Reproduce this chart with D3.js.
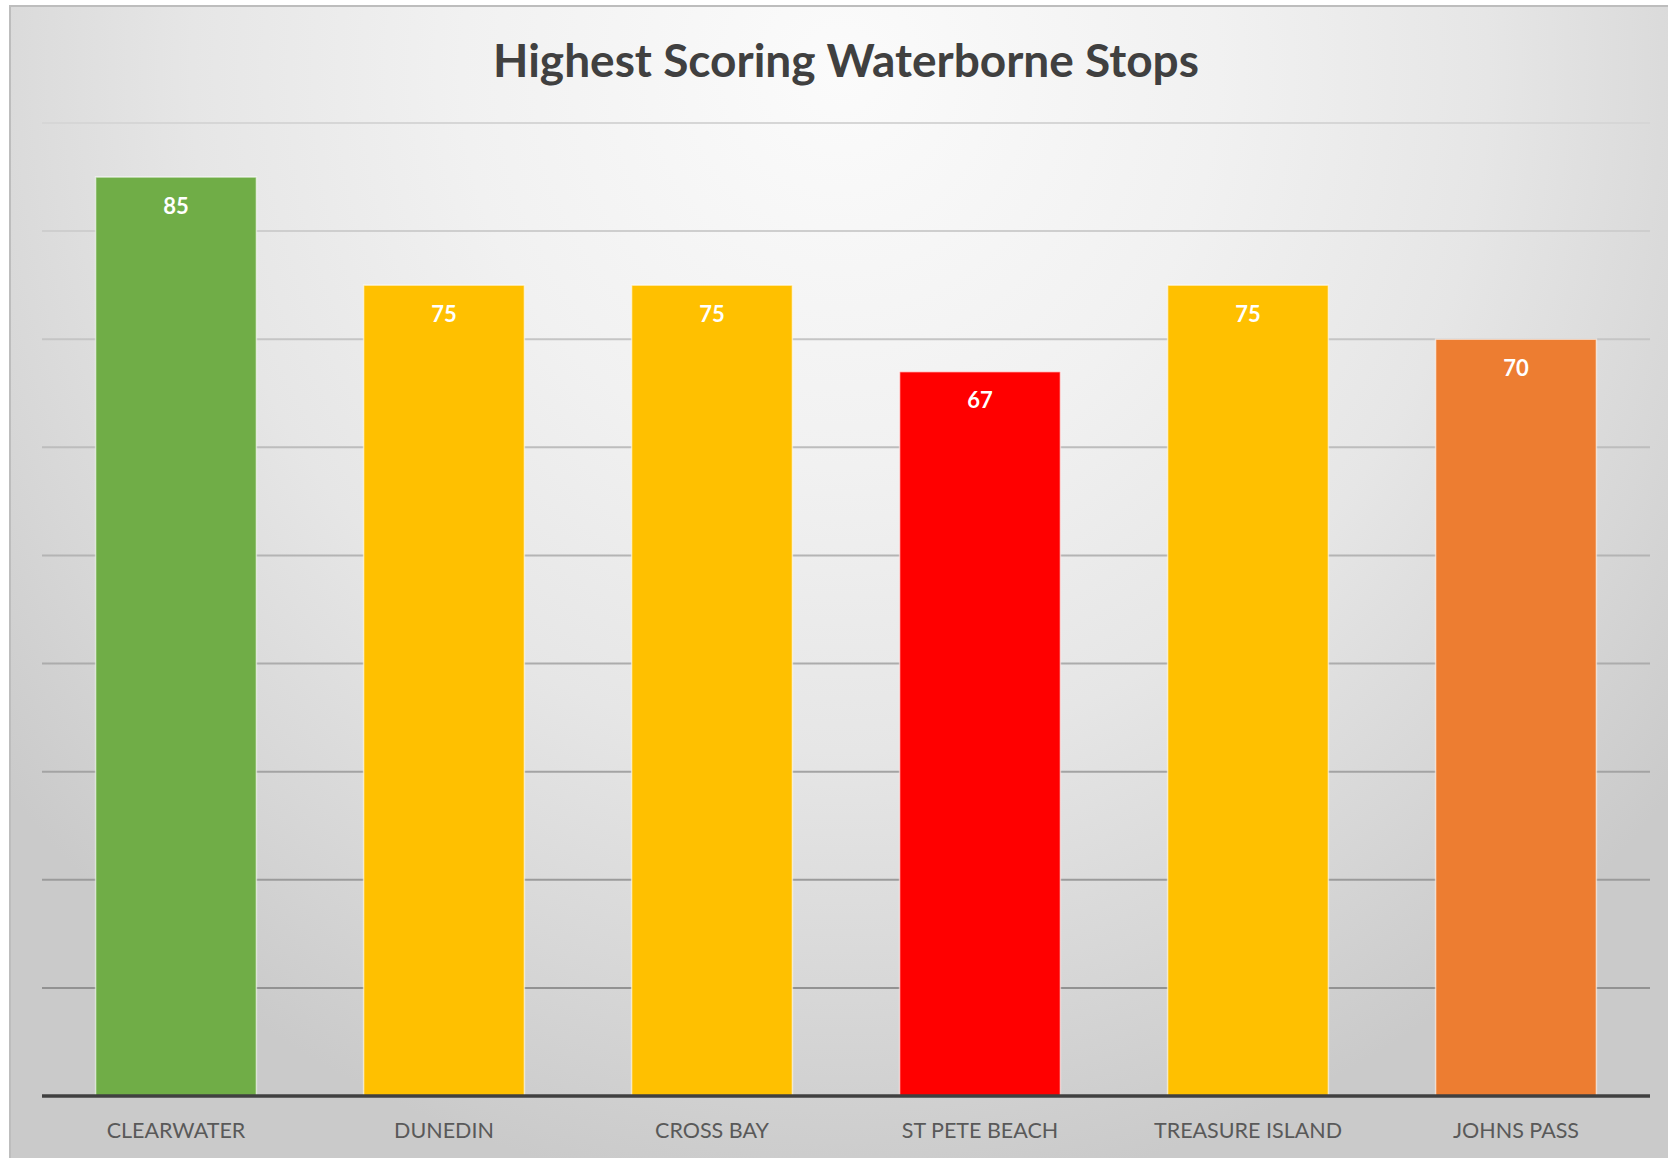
<!DOCTYPE html>
<html>
<head>
<meta charset="utf-8">
<script src="https://cdn.jsdelivr.net/npm/d3@7"></script>
<style>
  html, body { margin: 0; padding: 0; background: #fff; }
  svg { display: block; }
</style>
</head>
<body>
<div id="chart"></div>
<script>
// chart data
const categories = ['CLEARWATER', 'DUNEDIN', 'CROSS BAY', 'ST PETE BEACH', 'TREASURE ISLAND', 'JOHNS PASS'];
const scores = [85, 75, 75, 67, 75, 70];
const barColors = ['#70AD47', '#FFC000', '#FFC000', '#FF0000', '#FFC000', '#ED7D31'];
const title = 'Highest Scoring Waterborne Stops';
const yMax = 90;

const width = 1668;
const height = 1158;
const margin = { top: 123, right: 18, bottom: 62, left: 42 };

const svg = d3.select('#chart')
  .append('svg')
  .attr('width', width)
  .attr('height', height);

// radial background, light near the title, gray toward the edges
const defs = svg.append('defs');
const bg = defs.append('radialGradient')
  .attr('id', 'bg')
  .attr('gradientUnits', 'userSpaceOnUse')
  .attr('cx', 840).attr('cy', 70)
  .attr('r', 1080)
  .attr('gradientTransform', 'translate(840,70) scale(1,1.05) translate(-840,-70)');
[[0, '#fbfbfb'], [0.35, '#f1f1f1'], [0.6, '#e6e6e6'], [0.82, '#d7d7d7'], [1, '#cacaca']]
  .forEach(([o, c]) => bg.append('stop').attr('offset', o).attr('stop-color', c));

svg.append('rect')
  .attr('x', 10).attr('y', 6)
  .attr('width', width - 8).attr('height', height)
  .attr('fill', 'url(#bg)')
  .attr('stroke', '#bdbdbd')
  .attr('stroke-width', 2);

const x = d3.scaleBand()
  .domain(categories)
  .range([margin.left, width - margin.right])
  .paddingInner(0.4)
  .paddingOuter(0.2);

const y = d3.scaleLinear()
  .domain([0, yMax])
  .range([height - margin.bottom, margin.top]);

// gridlines get darker toward the bottom, like the source
const gridColor = d3.scaleLinear()
  .domain([0, yMax])
  .range(['#8a8a8a', '#d6d6d6']);

svg.append('g')
  .attr('class', 'grid')
  .selectAll('line')
  .data(y.ticks(9).filter(t => t > 0))
  .join('line')
  .attr('x1', margin.left)
  .attr('x2', width - margin.right)
  .attr('y1', d => y(d))
  .attr('y2', d => y(d))
  .attr('stroke', d => gridColor(d))
  .attr('stroke-width', 2);

// bars
svg.append('g')
  .attr('class', 'bars')
  .selectAll('rect')
  .data(scores)
  .join('rect')
  .attr('x', (d, i) => x(categories[i]))
  .attr('y', d => y(d))
  .attr('width', x.bandwidth())
  .attr('height', d => y(0) - y(d))
  .attr('fill', (d, i) => barColors[i])
  .attr('stroke', 'rgba(255,255,255,0.6)')
  .attr('stroke-width', 1.5);

// value labels inside the top of each bar
svg.append('g')
  .attr('class', 'labels')
  .selectAll('text')
  .data(scores)
  .join('text')
  .attr('x', (d, i) => x(categories[i]) + x.bandwidth() / 2)
  .attr('y', d => y(d) + 29)
  .attr('dy', '0.35em')
  .attr('text-anchor', 'middle')
  .attr('font-family', 'Lato, "Open Sans", sans-serif')
  .attr('font-weight', 700)
  .attr('font-size', 22)
  .attr('fill', '#ffffff')
  .text(d => d);

// baseline axis
const xAxis = svg.append('g')
  .attr('transform', `translate(0,${y(0)})`)
  .call(d3.axisBottom(x).tickSize(0).tickPadding(24));

xAxis.select('.domain')
  .attr('d', `M${margin.left},0H${width - margin.right}`)
  .attr('stroke', '#404040')
  .attr('stroke-width', 3.5);

xAxis.selectAll('.tick text')
  .attr('font-family', 'Lato, "Open Sans", sans-serif')
  .attr('font-size', 21.5)
  .attr('fill', '#595959')
  .attr('dy', '0.35em')
  .attr('y', 34);

// title
svg.append('text')
  .attr('x', 846)
  .attr('y', 77)
  .attr('text-anchor', 'middle')
  .attr('font-family', 'Lato, "Open Sans", sans-serif')
  .attr('font-weight', 700)
  .attr('font-size', 46)
  .attr('fill', '#404040')
  .text(title);
</script>
</body>
</html>
